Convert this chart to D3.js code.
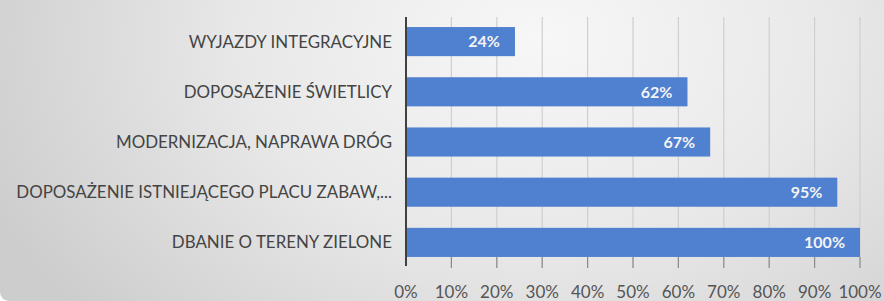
<!DOCTYPE html>
<html>
<head>
<meta charset="utf-8">
<script src="https://cdn.jsdelivr.net/npm/d3@7"></script>
<style>
  html, body { margin: 0; padding: 0; background: #ffffff; }
  svg { display: block; }
</style>
</head>
<body>
<svg id="chart" width="884" height="301"></svg>
<script>
const categories = [
  "WYJAZDY INTEGRACYJNE",
  "DOPOSAŻENIE ŚWIETLICY",
  "MODERNIZACJA, NAPRAWA DRÓG",
  "DOPOSAŻENIE ISTNIEJĄCEGO PLACU ZABAW,...",
  "DBANIE O TERENY ZIELONE"
];
const values = [24, 62, 67, 95, 100];
const tickValues = [0, 10, 20, 30, 40, 50, 60, 70, 80, 90, 100];

const W = 884, H = 301;
const svg = d3.select("#chart");
const defs = svg.append("defs");
const grad = defs.append("radialGradient")
  .attr("id", "bg")
  .attr("gradientUnits", "userSpaceOnUse")
  .attr("cx", 540).attr("cy", 40).attr("r", 600)
  .attr("gradientTransform", "translate(540,40) scale(1,0.7) translate(-540,-40)");
grad.append("stop").attr("offset", "0%").attr("stop-color", "#f7f7f7");
grad.append("stop").attr("offset", "50%").attr("stop-color", "#e8e8e8");
grad.append("stop").attr("offset", "100%").attr("stop-color", "#cdcdcd");

svg.append("rect").attr("x", 0).attr("y", 0).attr("width", W).attr("height", H)
  .attr("fill", "#ffffff");
const r = 9;
svg.append("path")
  .attr("d", `M0,0 H${W} V${H} H${r} A${r},${r} 0 0 1 0,${H - r} Z`)
  .attr("fill", "url(#bg)");

const x = d3.scaleLinear().domain([0, 100]).range([406, 860]);
const y = d3.scaleBand().domain(categories).range([16.5, 267.5]).paddingInner(0.42).paddingOuter(0.21);

// gridlines
svg.append("g").selectAll("line").data(tickValues.slice(1)).join("line")
  .attr("x1", d => x(d)).attr("x2", d => x(d))
  .attr("y1", 17).attr("y2", 268)
  .attr("stroke", "#cfcfcf").attr("stroke-width", 1.2);

// tick marks below plot
svg.append("g").selectAll("line").data(tickValues.slice(1)).join("line")
  .attr("x1", d => x(d)).attr("x2", d => x(d))
  .attr("y1", 257).attr("y2", 268)
  .attr("stroke", "#8c8c8c").attr("stroke-width", 1.2);

// bars
svg.append("g").selectAll("rect").data(values).join("rect")
  .attr("x", x(0))
  .attr("y", (d, i) => y(categories[i]))
  .attr("width", d => x(d) - x(0))
  .attr("height", y.bandwidth())
  .attr("fill", "#5080d0");

// value labels
svg.append("g").selectAll("text").data(values).join("text")
  .attr("x", d => x(d) - 15)
  .attr("y", (d, i) => y(categories[i]) + y.bandwidth() / 2)
  .attr("dy", "0.36em")
  .attr("text-anchor", "end")
  .attr("font-family", "Lato, 'Open Sans', sans-serif")
  .attr("font-weight", "bold")
  .attr("font-size", "16px")
  .attr("fill", "#f4f4f4")
  .text(d => d + "%");

// y axis line
svg.append("line")
  .attr("x1", x(0)).attr("x2", x(0)).attr("y1", 17).attr("y2", 266)
  .attr("stroke", "#404040").attr("stroke-width", 2);

// category labels
svg.append("g").selectAll("text").data(categories).join("text")
  .attr("x", 392)
  .attr("y", d => y(d) + y.bandwidth() / 2)
  .attr("dy", "0.36em")
  .attr("text-anchor", "end")
  .attr("font-family", "Lato, 'Open Sans', sans-serif")
  .attr("font-size", "16.9px")
  .attr("fill", "#444444")
  .text(d => d);

// x tick labels
svg.append("g").selectAll("text").data(tickValues).join("text")
  .attr("x", d => x(d))
  .attr("y", 292)
  .attr("dy", "0.36em")
  .attr("text-anchor", "middle")
  .attr("font-family", "Lato, 'Open Sans', sans-serif")
  .attr("font-size", "17px")
  .attr("fill", "#555555")
  .text(d => d + "%");
</script>
</body>
</html>
